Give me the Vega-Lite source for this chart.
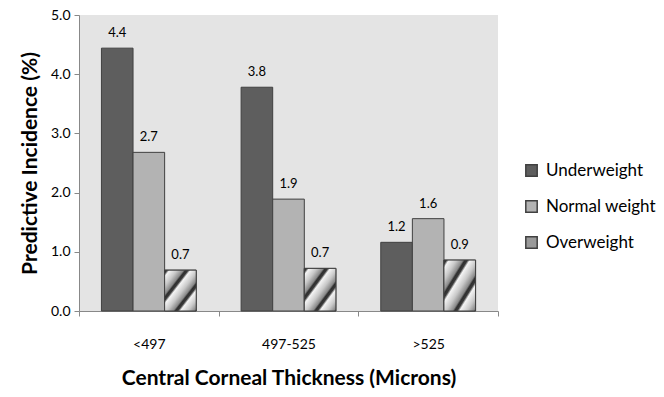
{
  "$schema": "https://vega.github.io/schema/vega-lite/v6.json",
  "width": 419,
  "height": 296,
  "autosize": "none",
  "padding": {"left": 79, "top": 15, "right": 166, "bottom": 86},
  "background": "white",
  "view": {"fill": "#e4e4e4", "stroke": null},
  "config": {"font": "Lato"},
  "data": {
    "values": [
      {"thickness": "<497", "group": "Underweight", "incidence": 4.44},
      {"thickness": "<497", "group": "Normal weight", "incidence": 2.68},
      {"thickness": "<497", "group": "Overweight", "incidence": 0.69},
      {"thickness": "497-525", "group": "Underweight", "incidence": 3.78},
      {"thickness": "497-525", "group": "Normal weight", "incidence": 1.89},
      {"thickness": "497-525", "group": "Overweight", "incidence": 0.72},
      {"thickness": ">525", "group": "Underweight", "incidence": 1.16},
      {"thickness": ">525", "group": "Normal weight", "incidence": 1.56},
      {"thickness": ">525", "group": "Overweight", "incidence": 0.86}
    ]
  },
  "encoding": {
    "x": {
      "field": "thickness", "type": "nominal", "sort": ["<497", "497-525", ">525"],
      "scale": {"paddingInner": 0, "paddingOuter": 0},
      "axis": {
        "title": "Central Corneal Thickness (Microns)",
        "titleFont": "Lato", "titleFontSize": 21, "titleFontWeight": "bold", "titleColor": "#000",
        "titlePadding": 16,
        "labelAngle": 0, "labelFontSize": 14, "labelColor": "#000", "labelPadding": 21,
        "domainColor": "#888", "tickColor": "#888", "tickBand": "extent", "tickSize": 5
      }
    },
    "xOffset": {
      "field": "group", "type": "nominal", "sort": ["Underweight", "Normal weight", "Overweight"],
      "scale": {"paddingInner": 0, "paddingOuter": 0.71}
    },
    "y": {
      "field": "incidence", "type": "quantitative",
      "scale": {"domain": [0, 5]},
      "axis": {
        "title": "Predictive Incidence (%)",
        "titleFont": "Lato", "titleFontSize": 21, "titleFontWeight": "bold", "titleColor": "#000",
        "titlePadding": 10,
        "values": [0, 1, 2, 3, 4, 5], "format": ".1f", "grid": false,
        "labelFontSize": 14, "labelColor": "#000", "labelPadding": 4,
        "domainColor": "#888", "tickColor": "#888", "tickSize": 5
      }
    }
  },
  "layer": [
    {
      "mark": {"type": "bar", "stroke": "#404040", "strokeWidth": 1},
      "encoding": {
        "color": {
          "field": "group", "type": "nominal", "sort": ["Underweight", "Normal weight", "Overweight"],
          "scale": {
            "domain": ["Underweight", "Normal weight", "Overweight"],
            "range": ["#5e5e5e", "#b3b3b3", "#9a9a9a"]
          },
          "legend": {
            "title": null, "orient": "none", "legendX": 444, "legendY": 147,
            "symbolType": "square", "symbolSize": 130,
            "labelFontSize": 17, "labelColor": "#000", "rowPadding": 17, "labelOffset": 6,
            "encode": {
              "symbols": {
                "update": {
                  "stroke": {"value": "#404040"},
                  "strokeWidth": {"value": 1},
                  "fill": [
                    {
                      "test": "datum.label === 'Overweight'",
                      "value": {
                        "gradient": "linear", "x1": 0, "y1": 0, "x2": 1, "y2": 1,
                        "stops": [
                          {"offset": 0, "color": "#8a8a8a"},
                          {"offset": 0.35, "color": "#c8c8c8"},
                          {"offset": 0.45, "color": "#3a3a3a"},
                          {"offset": 0.55, "color": "#f4f4f4"},
                          {"offset": 1, "color": "#9a9a9a"}
                        ]
                      }
                    },
                    {"scale": "color", "field": "value"}
                  ]
                }
              }
            }
          }
        }
      }
    },
    {
      "transform": [{"filter": "datum.group === 'Overweight'"}],
      "mark": {
        "type": "bar", "stroke": "#404040", "strokeWidth": 1,
        "color": {
          "gradient": "linear", "x1": 0, "y1": 0, "x2": 1, "y2": 1,
          "stops": [
            {"offset": 0, "color": "#2e2e2e"},
            {"offset": 0.04, "color": "#3a3a3a"},
            {"offset": 0.08, "color": "#f4f4f4"},
            {"offset": 0.2, "color": "#c8c8c8"},
            {"offset": 0.3, "color": "#8a8a8a"},
            {"offset": 0.333, "color": "#2e2e2e"},
            {"offset": 0.373, "color": "#3a3a3a"},
            {"offset": 0.413, "color": "#f4f4f4"},
            {"offset": 0.533, "color": "#c8c8c8"},
            {"offset": 0.633, "color": "#8a8a8a"},
            {"offset": 0.666, "color": "#2e2e2e"},
            {"offset": 0.706, "color": "#3a3a3a"},
            {"offset": 0.746, "color": "#f4f4f4"},
            {"offset": 0.866, "color": "#c8c8c8"},
            {"offset": 0.966, "color": "#8a8a8a"},
            {"offset": 1, "color": "#2e2e2e"}
          ]
        }
      },
      "encoding": {}
    },
    {
      "mark": {"type": "text", "baseline": "bottom", "dy": -8, "fontSize": 13, "color": "#000"},
      "encoding": {
        "text": {"field": "incidence", "type": "quantitative", "format": ".1f"}
      }
    }
  ]
}
